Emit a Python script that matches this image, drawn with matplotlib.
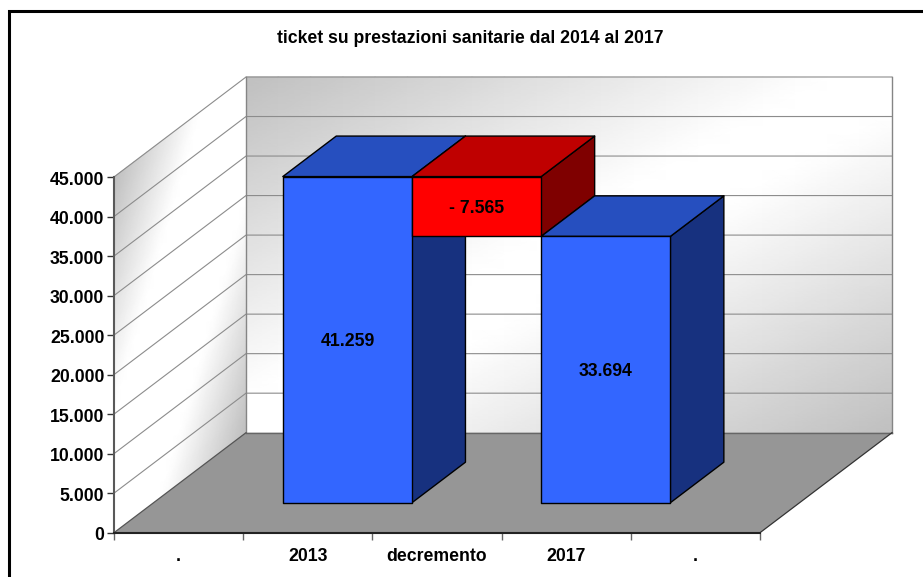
import numpy as np
import matplotlib
matplotlib.use('Agg')
import matplotlib.pyplot as plt
from matplotlib.patches import Polygon, Rectangle
from matplotlib.ticker import FuncFormatter
from matplotlib.transforms import ScaledTranslation

plt.rcParams['font.family'] = ['Liberation Sans', 'DejaVu Sans']
plt.rcParams['font.weight'] = 'bold'

categories = ['.', '2013', 'decremento', '2017', '.']
blue_positions = [1, 3]
blue_values = [41259, 33694]
red_position = 2
red_base = 33694
red_value = 7565
red_label = '- 7.565'
y_ticks = [0, 5000, 10000, 15000, 20000, 25000, 30000, 35000, 40000, 45000]
title = 'ticket su prestazioni sanitarie dal 2014 al 2017'

W, H = 923, 577
LEFT, RIGHT, BOTTOM, TOP = 114, 760, 532.7, 177
Y_MAX = 45000

fig = plt.figure(figsize=(W / 100, H / 100), dpi=100, facecolor='white')
ax = fig.add_axes([LEFT / W, 1 - BOTTOM / H, (RIGHT - LEFT) / W, (BOTTOM - TOP) / H])

# how far the scene goes back, in data units per unit of depth
DX = 132 / (RIGHT - LEFT) * len(categories)
DY = 100 / (BOTTOM - TOP) * Y_MAX


def pt(x, y, d=0.0):
    return (x + d * DX, y + d * DY)


def poly(points, **kw):
    ax.add_patch(Polygon(points, closed=True, clip_on=False, **kw))


def wall(p0, p1, p2, flat):
    # p0 top left, p1 top right, p2 bottom left. grey in two corners, white across the middle
    # flat = how wide the white band is
    u, v = np.meshgrid(np.linspace(0, 1, 21), np.linspace(0, 1, 21))
    X = p0[0] + u * (p1[0] - p0[0]) + v * (p2[0] - p0[0])
    Y = p0[1] + u * (p1[1] - p0[1]) + v * (p2[1] - p0[1])
    C = np.clip((np.abs(u + v - 1) - flat) / (1 - flat), 0, 1)
    m = ax.pcolormesh(X, Y, 1 - C * 0.25, shading='gouraud', cmap='gray', vmin=0, vmax=1, zorder=0.5)
    m.set_clip_on(False)


n = len(categories)

# walls and floor
wall(pt(0, Y_MAX, 1), pt(n, Y_MAX, 1), pt(0, 0, 1), 0.1)
wall(pt(0, Y_MAX), pt(0, Y_MAX, 1), pt(0, 0), 0.35)
poly([pt(0, 0), pt(n, 0), pt(n, 0, 1), pt(0, 0, 1)], facecolor='#969696', edgecolor='none', zorder=0.8)

# grid lines, going up the left wall and across the back one
for t in y_ticks[1:]:
    xs, ys = zip(pt(0, t), pt(0, t, 1), pt(n, t, 1))
    ax.plot(xs, ys, color='#8c8c8c', lw=0.8, clip_on=False, zorder=0.9)
xs, ys = zip(pt(0, 0, 1), pt(0, Y_MAX, 1))
ax.plot(xs, ys, color='#858585', lw=1, clip_on=False, zorder=0.9)
xs, ys = zip(pt(n, Y_MAX, 1), pt(n, 0, 1))
ax.plot(xs, ys, color='#858585', lw=1, clip_on=False, zorder=0.9)
xs, ys = zip(pt(0, 0, 1), pt(n, 0, 1))
ax.plot(xs, ys, color='#666666', lw=1, clip_on=False, zorder=0.9)
xs, ys = zip(pt(0, 0), pt(0, 0, 1))
ax.plot(xs, ys, color='#555555', lw=0.9, clip_on=False, zorder=0.9)
xs, ys = zip(pt(n, 0), pt(n, 0, 1))
ax.plot(xs, ys, color='#333333', lw=0.9, clip_on=False, zorder=0.9)

D0, D1 = 0.30, 0.705


def bar3d(pos, base, value, front, top, side):
    x0, x1 = pos, pos + 1
    y0, y1 = base, base + value
    kw = dict(edgecolor='black', lw=1, joinstyle='round', zorder=1)
    poly([pt(x1, y0, D0), pt(x1, y0, D1), pt(x1, y1, D1), pt(x1, y1, D0)], facecolor=side, **kw)
    poly([pt(x0, y1, D0), pt(x1, y1, D0), pt(x1, y1, D1), pt(x0, y1, D1)], facecolor=top, **kw)
    poly([pt(x0, y0, D0), pt(x1, y0, D0), pt(x1, y1, D0), pt(x0, y1, D0)], facecolor=front, **kw)


def dotted(v, _=None):
    return f'{int(v):,}'.replace(',', '.')


# left to right, each bar hides the side of the previous one
bar3d(blue_positions[0], 0, blue_values[0], '#3366FF', '#264FBF', '#17317F')
bar3d(red_position, red_base, red_value, '#FF0000', '#BF0000', '#7F0000')
bar3d(blue_positions[1], 0, blue_values[1], '#3366FF', '#264FBF', '#17317F')

# text sits a bit lower than matplotlib centres it
down = ScaledTranslation(0, -1.5 / 72, fig.dpi_scale_trans)

for p, v in zip(blue_positions, blue_values):
    x, y = pt(p + 0.5, v / 2, D0)
    ax.text(x, y, dotted(v), ha='center', va='center', fontsize=12.7, color='black', zorder=3,
            transform=ax.transData + down)
x, y = pt(red_position + 0.5, red_base + red_value / 2, D0)
ax.text(x, y, red_label, ha='center', va='center', fontsize=12.7, color='black', zorder=3,
        transform=ax.transData + down)

ax.set_xlim(0, n)
ax.set_ylim(0, Y_MAX)
ax.patch.set_visible(False)

ax.set_yticks(y_ticks)
ax.yaxis.set_major_formatter(FuncFormatter(dotted))
ax.set_xticks(np.arange(n + 1))
ax.set_xticks(np.arange(n) + 0.5, minor=True)
ax.set_xticklabels([])
ax.set_xticklabels(categories, minor=True)
ax.tick_params(axis='x', which='minor', length=0, pad=11, labelsize=12.7)
ax.tick_params(axis='x', which='major', length=5, width=1, color='#666666')
ax.tick_params(axis='y', length=5, width=1, color='#333333', pad=2, labelsize=12.7)
for lab in ax.get_yticklabels():
    lab.set_transform(lab.get_transform() + ScaledTranslation(0, -0.8 / 72, fig.dpi_scale_trans))

for s in ['top', 'right']:
    ax.spines[s].set_visible(False)
ax.spines['left'].set_color('#595959')
ax.spines['left'].set_linewidth(1.5)
ax.spines['bottom'].set_color('#222222')
ax.spines['bottom'].set_linewidth(1.5)

fig.text(470 / W, 1 - 38.5 / H, title, ha='center', va='center', fontsize=12.7, color='black')

# black frame of the picture, runs off the right and bottom edges
fig.add_artist(Rectangle((8.5 / W, -0.1), 1.2, 1.1 - 11 / H, transform=fig.transFigure,
                         facecolor='none', edgecolor='black', lw=2.2))

fig.savefig('out.png', dpi=100)
